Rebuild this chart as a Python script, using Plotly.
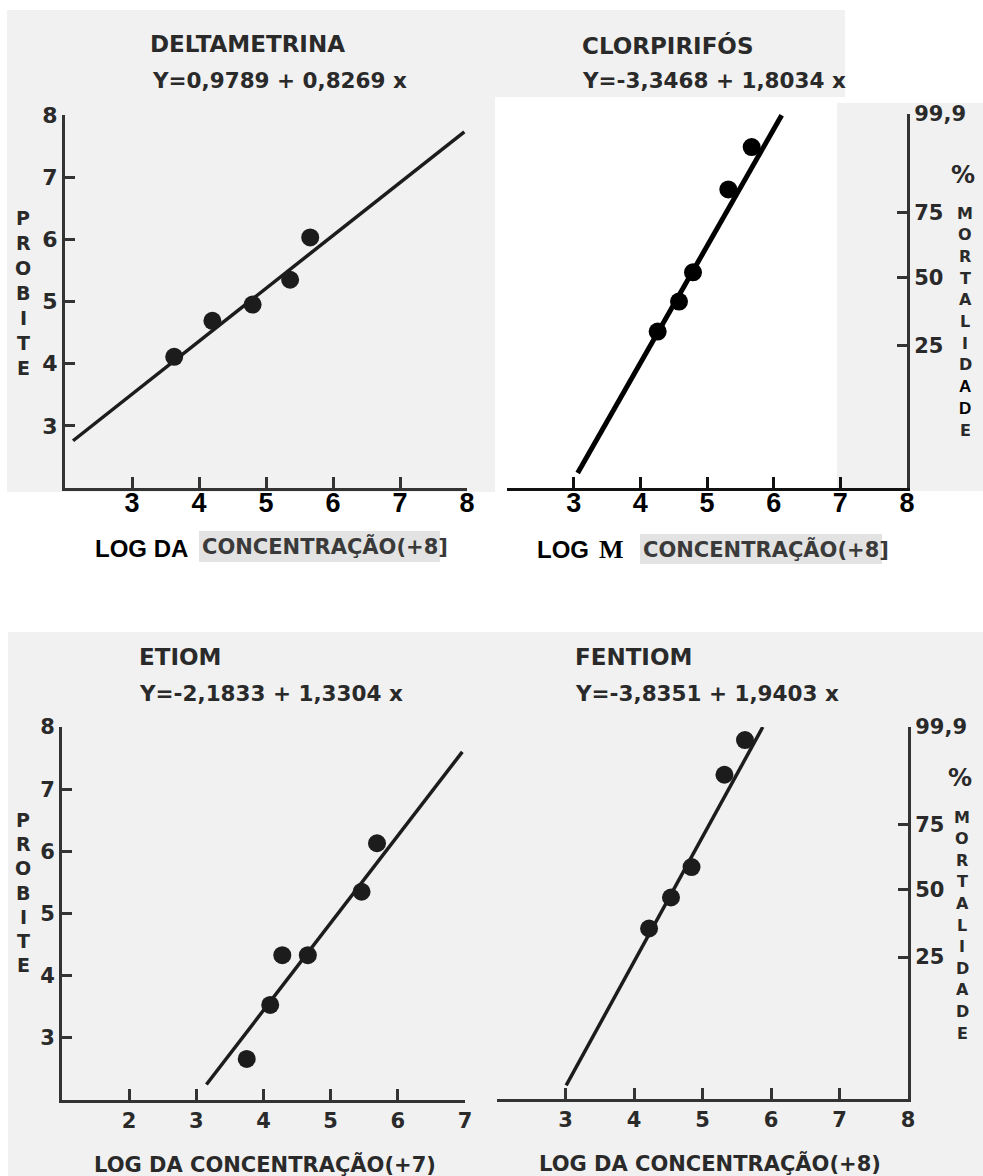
import plotly.graph_objects as go

W, H = 983, 1176

# ---------------- data ----------------
panel_titles = ["DELTAMETRINA", "CLORPIRIFÓS", "ETIOM", "FENTIOM"]
equations = ["Y=0,9789 + 0,8269 x", "Y=-3,3468 + 1,8034 x",
             "Y=-2,1833 + 1,3304 x", "Y=-3,8351 + 1,9403 x"]

delta_x = [3.63, 4.20, 4.80, 5.36, 5.66]
delta_y = [4.11, 4.69, 4.95, 5.35, 6.03]
delta_line_x = [2.12, 7.96]
delta_line_y = [2.76, 7.73]

clor_x = [4.26, 4.58, 4.79, 5.32, 5.67]
clor_y = [4.51, 4.99, 5.46, 6.79, 7.47]
clor_line_x = [3.06, 6.12]
clor_line_y = [2.24, 7.98]

etiom_x = [3.75, 4.10, 4.28, 4.66, 5.46, 5.69]
etiom_y = [2.66, 3.53, 4.33, 4.33, 5.35, 6.13]
etiom_line_x = [3.15, 6.96]
etiom_line_y = [2.25, 7.60]

fent_x = [4.22, 4.54, 4.84, 5.32, 5.62]
fent_y = [4.75, 5.25, 5.74, 7.23, 7.79]
fent_line_x = [3.01, 5.88]
fent_line_y = [2.22, 8.00]

probit_ticks = [3, 4, 5, 6, 7, 8]
x_ticks_top = [2, 3, 4, 5, 6, 7, 8]
x_ticks_bl = [1, 2, 3, 4, 5, 6, 7]
mort_tickvals = [8.0, 6.42, 5.38, 4.29]
mort_ticktext = ["99,9", "75", "50", "25"]

# ---------------- styling ----------------
SCAN = "DejaVu Sans"
PASTE = "Liberation Sans"
INK = "#2a2a2a"
LINE_INK = "#1c1c1c"
SCAN_BG = "#f1f1f1"
PATCH_BG = "#e3e3e3"


def fx(px):
    return px / W


def fy(py):
    return 1 - py / H


fig = go.Figure()

panels = [
    (delta_x, delta_y, delta_line_x, delta_line_y, "x", "y", LINE_INK, 3.5),
    (clor_x, clor_y, clor_line_x, clor_line_y, "x2", "y2", "#000000", 5),
    (etiom_x, etiom_y, etiom_line_x, etiom_line_y, "x3", "y3", LINE_INK, 3.5),
    (fent_x, fent_y, fent_line_x, fent_line_y, "x4", "y4", LINE_INK, 3.5),
]
for px_, py_, lx, ly, xa, ya, col, lw in panels:
    fig.add_trace(go.Scatter(x=lx, y=ly, mode="lines", xaxis=xa, yaxis=ya,
                             line=dict(color=col, width=lw), showlegend=False,
                             cliponaxis=False, hoverinfo="skip"))
    fig.add_trace(go.Scatter(x=px_, y=py_, mode="markers", xaxis=xa, yaxis=ya,
                             marker=dict(color=col, size=18), showlegend=False,
                             cliponaxis=False))

scan_tick = dict(family=SCAN, size=22, color=INK, weight="bold")
paste_tick = dict(family=PASTE, size=27, color="#000000", weight="bold")

common_x = dict(showgrid=False, zeroline=False, showline=True, linewidth=3,
                ticks="inside", ticklen=11, tickwidth=2.5)
common_y = dict(showgrid=False, zeroline=False, showline=True, linewidth=3,
                ticks="inside", ticklen=10, tickwidth=2.5)

layout_axes = dict(
    xaxis=dict(**common_x, domain=[fx(65), fx(467)], range=[2, 8], anchor="y",
               tickvals=x_ticks_top, ticktext=[""] + [str(v) for v in x_ticks_top[1:]],
               tickfont=paste_tick, linecolor="#333333", tickcolor="#333333",
               ticklabelstandoff=-11),
    yaxis=dict(**common_y, domain=[fy(488), fy(115)], range=[2, 8], anchor="x",
               tickvals=probit_ticks, tickfont=scan_tick,
               linecolor="#333333", tickcolor="#333333"),
    xaxis2=dict(**common_x, domain=[fx(507), fx(907)], range=[2, 8], anchor="y2",
                tickvals=x_ticks_top, ticktext=[""] + [str(v) for v in x_ticks_top[1:]],
                tickfont=paste_tick, linecolor="#111111", tickcolor="#111111",
                ticklabelstandoff=-11),
    yaxis2=dict(**common_y, domain=[fy(488), fy(114)], range=[2, 8], anchor="x2",
                side="right", tickvals=mort_tickvals, ticktext=mort_ticktext,
                tickfont=dict(family=SCAN, size=21, color=INK, weight="bold"),
                linecolor="#333333", tickcolor="#333333"),
    xaxis3=dict(**common_x, domain=[fx(62), fx(465)], range=[1, 7], anchor="y3",
                tickvals=x_ticks_bl, ticktext=[""] + [str(v) for v in x_ticks_bl[1:]],
                tickfont=dict(family=SCAN, size=21, color=INK, weight="bold"),
                linecolor="#333333", tickcolor="#333333", ticklabelstandoff=0),
    yaxis3=dict(**common_y, domain=[fy(1100), fy(727)], range=[2, 8], anchor="x3",
                tickvals=probit_ticks, tickfont=dict(family=SCAN, size=21, color=INK, weight="bold"),
                linecolor="#333333", tickcolor="#333333"),
    xaxis4=dict(**common_x, domain=[fx(497), fx(908)], range=[2, 8], anchor="y4",
                tickvals=x_ticks_top, ticktext=[""] + [str(v) for v in x_ticks_top[1:]],
                tickfont=dict(family=SCAN, size=21, color=INK, weight="bold"),
                linecolor="#333333", tickcolor="#333333", ticklabelstandoff=0),
    yaxis4=dict(**common_y, domain=[fy(1099), fy(727)], range=[2, 8], anchor="x4",
                side="right", tickvals=mort_tickvals, ticktext=mort_ticktext,
                tickfont=dict(family=SCAN, size=21, color=INK, weight="bold"),
                linecolor="#333333", tickcolor="#333333"),
)

# ---------------- background (scan areas) ----------------
shapes = []


def rect(x0, y0, x1, y1, color):
    shapes.append(dict(type="rect", xref="paper", yref="paper", layer="below",
                       x0=fx(x0), x1=fx(x1), y0=fy(y1), y1=fy(y0),
                       fillcolor=color, line=dict(width=0)))


rect(7, 10, 845, 97, SCAN_BG)
rect(7, 97, 495, 492, SCAN_BG)
rect(837, 103, 983, 491, SCAN_BG)
rect(8, 632, 983, 1176, SCAN_BG)
rect(199, 531, 440, 562, PATCH_BG)
rect(640, 534, 882, 564, PATCH_BG)

# ---------------- text ----------------
ann = []


def text(t, x, y, size, family=SCAN, color=INK, xanchor="left", weight="bold"):
    ann.append(dict(text=t, x=fx(x), y=fy(y), xref="paper", yref="paper",
                    xanchor=xanchor, yanchor="middle", showarrow=False,
                    font=dict(family=family, size=size, color=color, weight=weight)))


title_pos = [(148, 44, 150, 81), (580, 46, 580, 81), (137, 657, 137, 693), (573, 657, 573, 693)]
for t, eq, (tx, ty, ex, ey) in zip(panel_titles, equations, title_pos):
    text(t, tx, ty, 23)
    text(eq, ex, ey, 21.5)

# x-axis titles
text("LOG DA", 93, 548, 24, family=PASTE, color="#000000")
text("CONCENTRAÇÃO(+8]", 200, 547, 21, color="#3a3a3a")
text("LOG", 535, 549, 24, family=PASTE, color="#000000")
text("M", 597, 549, 26, family="Liberation Serif", color="#000000")
text("CONCENTRAÇÃO(+8]", 641, 549, 21, color="#3a3a3a")
text("LOG DA CONCENTRAÇÃO(+7)", 265, 1164, 21, xanchor="center")
text("LOG DA CONCENTRAÇÃO(+8)", 710, 1163, 21, xanchor="center")


def vertical(word, x, y0, step, size, black_idx=()):
    for i, ch in enumerate(word):
        if i in black_idx:
            text(ch, x, y0 + i * step, size + 1, family=PASTE, color="#000000", xanchor="center")
        else:
            text(ch, x, y0 + i * step, size, xanchor="center")


vertical("PROBITE", 23, 218, 25, 19)
vertical("PROBITE", 23, 820, 24.2, 19)
vertical("MORTALIDADE", 965, 213, 21.7, 16, black_idx=(8, 9))
vertical("MORTALIDADE", 962, 817, 21.6, 16)
text("%", 963, 175, 24, xanchor="center")
text("%", 960, 778, 24, xanchor="center")

fig.update_layout(
    width=W, height=H, margin=dict(l=0, r=0, t=0, b=0, autoexpand=False),
    paper_bgcolor="#ffffff", plot_bgcolor="rgba(0,0,0,0)",
    shapes=shapes, annotations=ann, showlegend=False,
    **layout_axes,
)

pin_page = (
    "var d=document.getElementById('{plot_id}');"
    "d.style.position='fixed';d.style.left='0px';d.style.top='0px';"
    "document.body.style.margin='0';document.body.style.padding='0';"
    "document.body.style.overflow='hidden';"
    "document.documentElement.style.overflow='hidden';"
)

fig.write_html("out.html", config={"displayModeBar": False}, post_script=pin_page)
